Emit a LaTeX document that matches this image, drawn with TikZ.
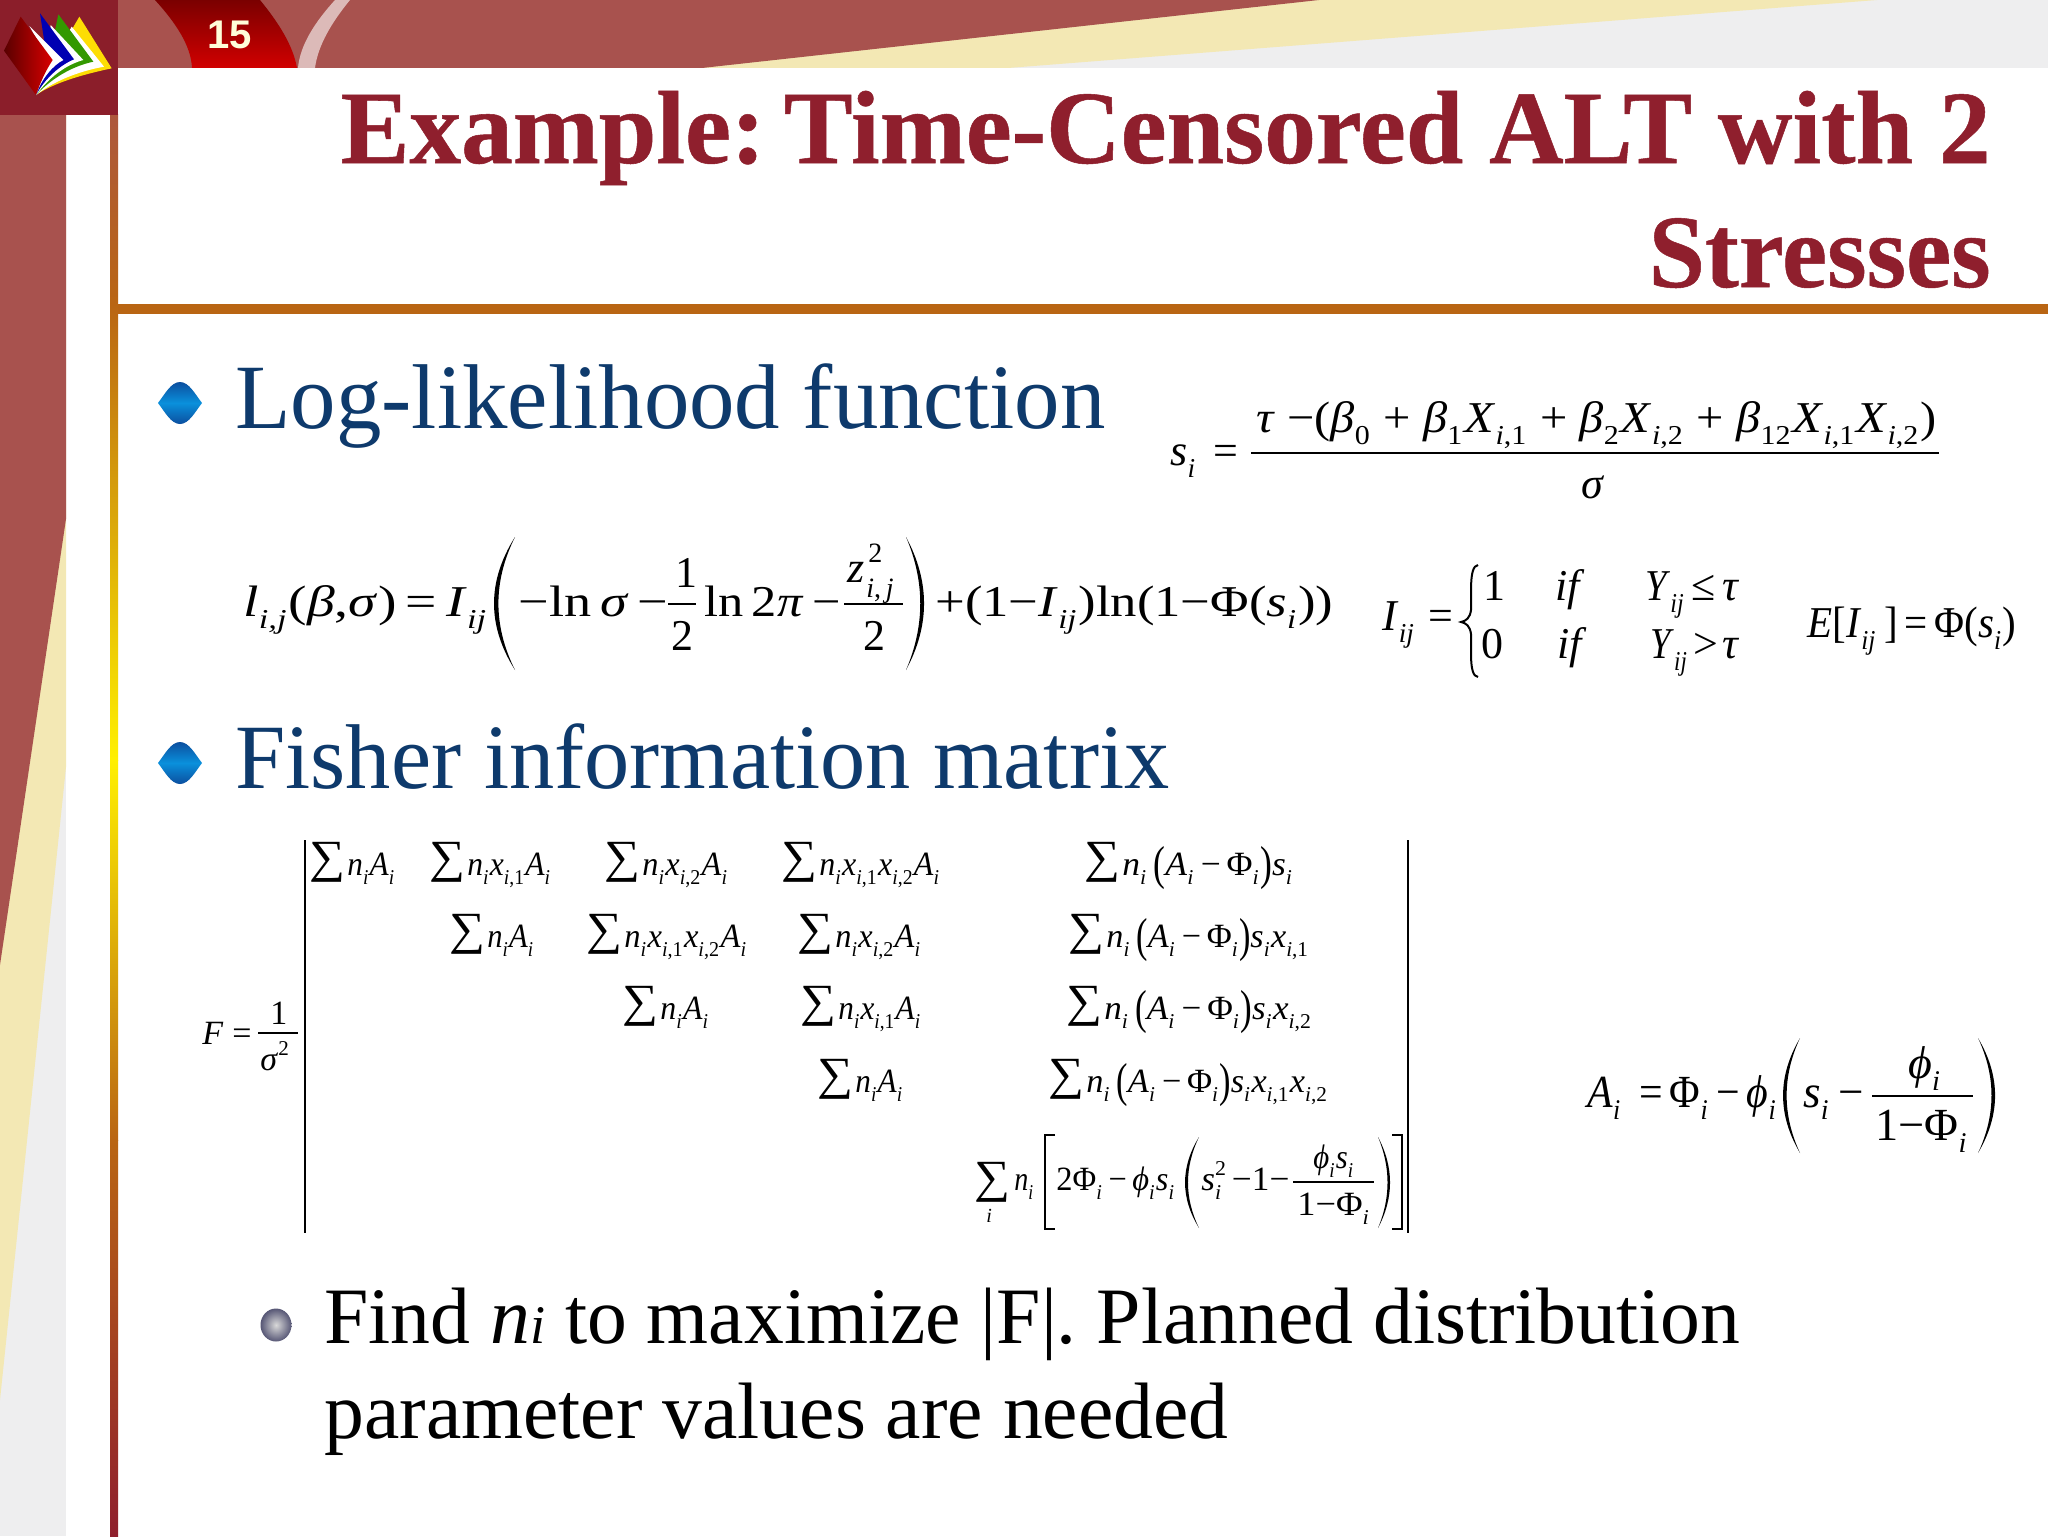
\documentclass[tikz,border=0pt]{standalone}
\usepackage{fontspec}
\setmainfont{Liberation Serif}
\newfontfamily\sansb{Liberation Sans}
\newfontfamily\ttlf[FakeBold=0.5]{Liberation Serif Bold}
\frenchspacing
\definecolor{brownbar}{HTML}{A8524E}
\definecolor{creamb}{HTML}{F3E8B4}
\definecolor{greyb}{HTML}{EEEEEF}
\definecolor{logobg}{HTML}{8B1E2A}
\definecolor{titlecol}{HTML}{8F1F2D}
\definecolor{rulecol}{HTML}{B96513}
\definecolor{navy}{HTML}{0E3A6C}
\definecolor{lensedge}{HTML}{0B4F9F}
\definecolor{lensmid}{HTML}{0A90DC}
\newcommand\mi[1]{\textit{#1}}
\newcommand\sbb[1]{\raisebox{-.28em}{\scalebox{.62}{#1}}\kern.04em\relax}
\newcommand\spp[1]{\raisebox{.42em}{\scalebox{.62}{#1}}}
\newcommand\fit[2]{\resizebox{\dimexpr #1pt/2\relax}{\height}{#2}}
\newcommand\sII{\sbb{\mi{i}}}
\newcommand\sIJ{\sbb{\mi{ij}}}
\newcommand\Ni{\mi{n}\sII}
\newcommand\Ai{\mi{A}\sII}
\newcommand\Xa{\mi{x}\sbb{\mi{i},1}}
\newcommand\Xb{\mi{x}\sbb{\mi{i},2}}
\newcommand\Phii{Φ\sII}
\newcommand\bp[1]{\raisebox{-.14em}{\scalebox{1}[1.4]{#1}}}
\newcommand\AP{\bp{(}\Ai\,−\,\Phii\bp{)}}
% crescent parenthesis: x-extreme, x-tips, ytop, ybottom
\newcommand\lpar[4]{%
  \pgfmathsetmacro\cxa{(#1-.25*#2)/.75}
  \fill (#2,#3) .. controls (\cxa,{#3+(#4-#3)/3}) and (\cxa,{#3+2*(#4-#3)/3}) .. (#2,#4)
        .. controls ({\cxa+(#2-#1)*.28},{#3+2*(#4-#3)/3}) and ({\cxa+(#2-#1)*.28},{#3+(#4-#3)/3}) .. (#2,#3) -- cycle;}
\newcommand\lensat[2]{%
  \shade[lens] (#1-22,#2) .. controls (#1-15,#2-9) and (#1-9,#2-21) .. (#1,#2-21) .. controls (#1+9,#2-21) and (#1+15,#2-9) .. (#1+22,#2)
  .. controls (#1+15,#2+9) and (#1+9,#2+21) .. (#1,#2+21) .. controls (#1-9,#2+21) and (#1-15,#2+9) .. (#1-22,#2) -- cycle;}
\newcommand\mcell[5]{%
  \pgfmathtruncatemacro\wid{#3-#2-38}
  \node[sumg] (#1s) at (#2,{#4+8}) {\resizebox*{18pt}{20pt}{∑}};
  \node[mat] (#1) at ({#2+38},#4) {\fit{\wid}{#5}};}
\tikzset{
  eq/.style={anchor=base west,inner sep=0pt,font=\fontsize{22pt}{26pt}\selectfont},
  eqb/.style={eq,font=\fontsize{23pt}{27pt}\selectfont},
  mat/.style={anchor=base west,inner sep=0pt,font=\fontsize{17pt}{20pt}\selectfont},
  sumg/.style={anchor=south west,inner sep=0pt,font=\fontsize{20pt}{24pt}\selectfont},
  head/.style={anchor=base west,inner sep=0pt,text=navy,font=\fontsize{46pt}{54pt}\selectfont},
  ttl/.style={anchor=base east,inner sep=0pt,text=titlecol,font=\fontsize{52pt}{60pt}\ttlf},
  bodyt/.style={anchor=base west,inner sep=0pt,text=black,font=\fontsize{40pt}{48pt}\selectfont},
  lens/.style={top color=lensedge,bottom color=lensedge,middle color=lensmid},
}
\begin{document}
\begin{tikzpicture}[x=.5pt,y=-.5pt]
\useasboundingbox (0,0) rectangle (2048,1536);
\fill[white] (0,0) rectangle (2048,1536);
% top band
\fill[greyb] (118,0) rectangle (2048,68);
\fill[creamb] (118,0) -- (1877,0) -- (1008,68) -- (118,68) -- cycle;
\fill[brownbar] (118,0) -- (1319,0) -- (702,68) -- (118,68) -- cycle;
% pink arc
\fill[fill=white!60!brownbar] (335,0) .. controls (315,22) and (300,45) .. (298,68) -- (315,68) .. controls (318,45) and (332,22) .. (350,0) -- cycle;
% number tab
\shade[top color=red!48!black,bottom color=red!82!black]
  (155,0) .. controls (175,22) and (191,45) .. (192,68) -- (297,68) .. controls (293,45) and (278,22) .. (260,0) -- cycle;
\node[anchor=base west,inner sep=0pt,text=white!85!yellow,font=\fontsize{20pt}{24pt}\selectfont\sansb\bfseries] (pagenum) at (207,49) {15};
% left band
\fill[greyb] (0,115) rectangle (66,1536);
\fill[creamb] (0,115) -- (66,115) -- (66,767) -- (0,1400) -- cycle;
\fill[brownbar] (0,115) -- (66,115) -- (66,519) -- (0,965) -- cycle;
% vertical gradient bar
\shade[top color=brownbar!70!rulecol,bottom color=rulecol] (110,115) rectangle (118,304);
\shade[top color=rulecol,bottom color=yellow!88!orange] (110,304) rectangle (118,760);
\shade[top color=yellow!88!orange,bottom color=rulecol] (110,760) rectangle (118,1140);
\shade[top color=rulecol,bottom color=titlecol] (110,1140) rectangle (118,1536);
\fill[rulecol] (118,304) rectangle (2048,314);
% logo
\fill[logobg] (0,0) rectangle (118,115);
\begin{scope}[x=.1667pt,y=-.1667pt]
  \fill[yellow!80!orange] (238,50) -- (335,205) .. controls (240,225) and (160,250) .. (108,285) -- (180,150) -- cycle;
  \fill[white] (215,80) -- (312,200) .. controls (230,215) and (160,245) .. (108,285) -- (170,160) -- cycle;
  \fill[green!50!black!80!yellow] (175,43) -- (280,185) .. controls (210,200) and (150,240) .. (108,285) -- (150,165) -- cycle;
  \fill[white] (152,75) -- (250,180) .. controls (195,195) and (145,235) .. (108,285) -- (140,170) -- cycle;
  \fill[blue!70!black] (120,40) -- (222,178) .. controls (180,195) and (135,235) .. (108,285) -- (140,170) -- cycle;
  \fill[white] (88,78) -- (190,180) .. controls (160,195) and (125,235) .. (108,285) -- (140,170) -- cycle;
  \shade[left color=red!35!black,right color=red!85!black] (62,50) -- (158,180) .. controls (135,215) and (120,250) .. (108,285) -- (12,152) -- cycle;
\end{scope}
% title
\node[ttl] (t1) at (1991,163) {\fit{1650}{Example:\hskip.18em Time-Censored ALT with 2}};
\node[ttl] (t2) at (1991,287) {\fit{342}{Stresses}};
% bullets
\lensat{180}{403}
\lensat{180}{763}
\node[head] (h1) at (235,428) {\fit{870}{Log-likelihood function}};
\node[head] (h2) at (235,788) {\fit{934}{Fisher information matrix}};
% s_i
\node[eq] (sl) at (1170,465) {\mi{s}\sII};
\node[eq] (seq) at (1213,465) {=};
\node[eq] (snum) at (1256,432) {\fit{680}{\mi{τ} −(\mi{β}\sbb{0} + \mi{β}\sbb{1}\mi{X}\sbb{\mi{i},1} + \mi{β}\sbb{2}\mi{X}\sbb{\mi{i},2} + \mi{β}\sbb{12}\mi{X}\sbb{\mi{i},1}\mi{X}\sbb{\mi{i},2})}};
\draw[line width=1pt] (1251,453) -- (1939,453);
\node[eq] (sden) at (1581,498) {\mi{σ}};
% l_ij
\node[eq] (la) at (243,616) {\fit{245}{\mi{l}\sbb{\mi{i,j}}(\mi{β},\mi{σ})\,=\,\mi{I}\sIJ}};
\lpar{494}{515}{537}{670}
\node[eq] (lb) at (518,616) {\fit{150}{−ln\,\mi{σ}\,−}};
\node[eq] (lc1) at (675,587) {1};
\draw[line width=.9pt] (668,604) -- (696,604);
\node[eq] (lc2) at (671,650) {2};
\node[eq] (ld) at (704,616) {\fit{136}{ln\,2\mi{π}\,−}};
\node[eq] (lz) at (847,582) {\mi{z}};
\node[anchor=base west,inner sep=0pt,font=\fontsize{14pt}{16pt}\selectfont] (lz2) at (868,562) {2};
\node[anchor=base west,inner sep=0pt,font=\fontsize{14pt}{16pt}\selectfont] (lzs) at (866,597) {\mi{i},\,\mi{j}};
\draw[line width=.9pt] (844,604) -- (903,604);
\node[eq] (lz3) at (863,650) {2};
\lpar{924}{906}{537}{670}
\node[eq] (le) at (935,616) {\fit{398}{+(1−\mi{I}\sIJ)ln(1−Φ(\mi{s}\sII))}};
% I_ij
\node[eq] (ia) at (1382,630) {\mi{I}\sIJ};
\node[eq] (ib) at (1428,630) {=};
\draw[line width=1pt] (1478,565) .. controls (1468,566) and (1472,600) .. (1471,610) .. controls (1470,618) and (1466,621) .. (1461,622)
  .. controls (1466,623) and (1470,626) .. (1471,634) .. controls (1472,645) and (1468,676) .. (1478,677);
\node[eq] (i1) at (1483,600) {1};
\node[eq] (i2) at (1555,600) {\mi{if}};
\node[eq] (i3) at (1645,600) {\fit{40}{\mi{Y}\sIJ}};
\node[eq] (i4) at (1691,600) {≤};
\node[eq] (i5) at (1722,600) {\mi{τ}};
\node[eq] (j1) at (1481,658) {0};
\node[eq] (j2) at (1557,658) {\mi{if}};
\node[eq] (j3) at (1650,658) {\fit{38}{\mi{Y}\sIJ}};
\node[eq] (j4) at (1693,658) {>};
\node[eq] (j5) at (1722,658) {\mi{τ}};
\node[eq] (ee) at (1807,637) {\fit{209}{\mi{E}[\mi{I}\sIJ\,]\,=\,Φ(\mi{s}\sII)}};
% A_i
\node[eqb] (aa) at (1587,1107) {\fit{190}{\mi{A}\sII\ \,=\,Φ\sII\,−\,\mi{ϕ}\sII}};
\lpar{1783}{1800}{1038}{1153}
\node[eqb] (ab) at (1803,1107) {\fit{60}{\mi{s}\sII\,−}};
\node[eqb] (ac) at (1908,1078) {\mi{ϕ}\sII};
\draw[line width=.9pt] (1872,1096) -- (1973,1096);
\node[eqb] (ad) at (1875,1140) {\fit{93}{1−Φ\sII}};
\lpar{1995}{1978}{1038}{1153}
% F
\node[mat] (fa) at (202,1044) {\mi{F}};
\node[mat] (fb) at (232,1044) {=};
\node[mat] (fc) at (270,1024) {1};
\draw[line width=.8pt] (258,1033) -- (298,1033);
\node[mat] (fd) at (260,1070) {\mi{σ}\spp{2}};
\draw[line width=.8pt] (305,840) -- (305,1233);
\draw[line width=.8pt] (1408,840) -- (1408,1233);
% matrix cells
\mcell{m11}{309}{395}{875}{\Ni\Ai}
\mcell{m12}{429}{551}{875}{\Ni\Xa\Ai}
\mcell{m13}{604}{728}{875}{\Ni\Xb\Ai}
\mcell{m14}{781}{940}{875}{\Ni\Xa\Xb\Ai}
\mcell{m15}{1084}{1293}{875}{\Ni\,\AP\mi{s}\sII}
\mcell{m22}{449}{534}{947}{\Ni\Ai}
\mcell{m23}{586}{747}{947}{\Ni\Xa\Xb\Ai}
\mcell{m24}{797}{921}{947}{\Ni\Xb\Ai}
\mcell{m25}{1068}{1309}{947}{\Ni\,\AP\mi{s}\sII\Xa}
\mcell{m33}{622}{709}{1019}{\Ni\Ai}
\mcell{m34}{800}{921}{1019}{\Ni\Xa\Ai}
\mcell{m35}{1066}{1312}{1019}{\Ni\,\AP\mi{s}\sII\Xb}
\mcell{m44}{817}{903}{1092}{\Ni\Ai}
\mcell{m45}{1048}{1328}{1092}{\Ni\,\AP\mi{s}\sII\Xa\Xb}
% last row
\node[sumg] (m55s) at (974,1203) {\resizebox*{18pt}{20pt}{∑}};
\node[anchor=base west,inner sep=0pt,font=\fontsize{10pt}{12pt}\selectfont] (m55i) at (986,1222) {\mi{i}};
\node[mat] (m55n) at (1014,1190) {\fit{20}{\Ni}};
\draw[line width=.8pt] (1055,1135) -- (1045,1135) -- (1045,1229) -- (1055,1229);
\node[mat] (m55a) at (1056,1190) {\fit{119}{2Φ\sII\,−\,\mi{ϕ}\sII\mi{s}\sII}};
\lpar{1185}{1199}{1137}{1228}
\node[mat] (m55b) at (1201,1190) {\fit{88}{\mi{s}\rlap{\sII}\spp{2}\,−1−}};
\node[mat] (m55c) at (1313,1168) {\fit{41}{\mi{ϕ}\sII\mi{s}\sII}};
\draw[line width=.7pt] (1293,1182) -- (1374,1182);
\node[mat] (m55d) at (1297,1215) {\fit{73}{1−Φ\sII}};
\lpar{1390}{1378}{1137}{1228}
\draw[line width=.8pt] (1392,1135) -- (1402,1135) -- (1402,1229) -- (1392,1229);
% last bullet
\shade[inner color=white!70!gray,outer color=gray!85!blue!80!black] (276,1325) ellipse [x radius=15.5,y radius=16.5];
\node[bodyt] (b1) at (324,1343) {\fit{1416}{Find \mi{n}\scalebox{.68}{\mi{i}} to maximize |F|. Planned distribution}};
\node[bodyt] (b2) at (324,1438) {\fit{904}{parameter values are needed}};
\end{tikzpicture}
\end{document}
